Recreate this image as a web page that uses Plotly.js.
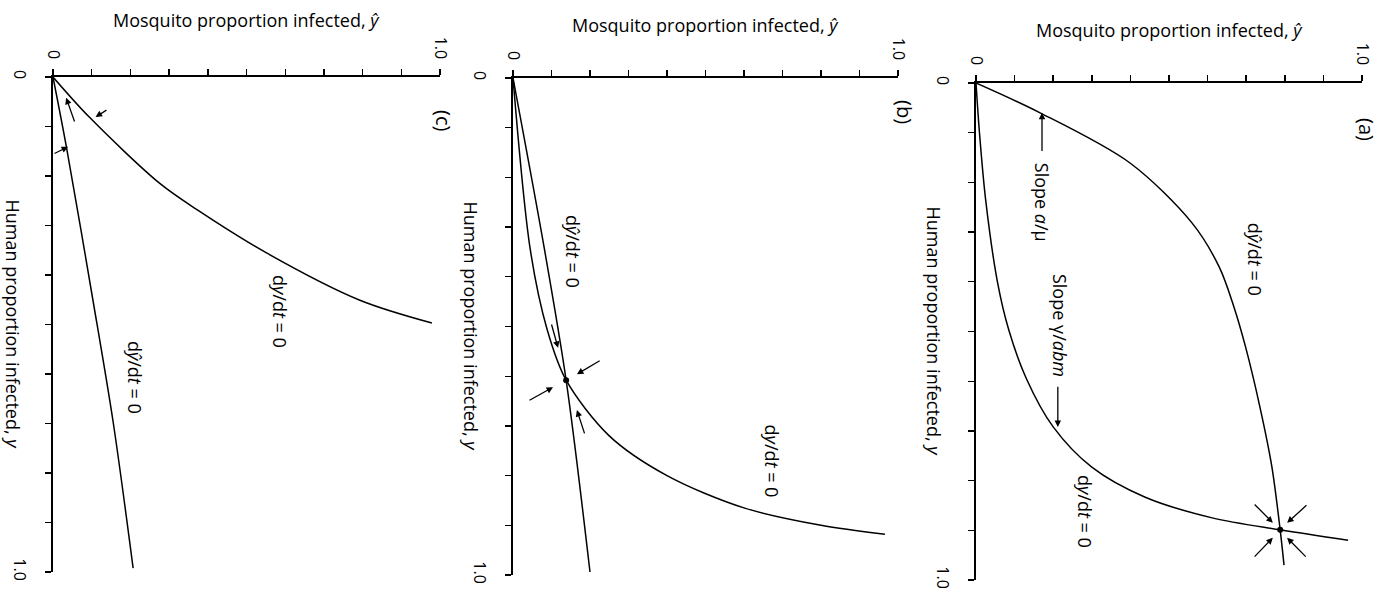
<!DOCTYPE html>
<html>
<head>
<meta charset="utf-8">
<script src="https://cdn.plot.ly/plotly-3.0.1.min.js"></script>
<style>html,body{margin:0;padding:0;background:#fff}#plot{width:1394px;height:597px}</style>
</head>
<body>
<div id="plot"></div>
<script>
// ---------- data (x = mosquito proportion infected ŷ, y = human proportion infected y) ----------
const tickVals = [0, 0.1, 0.2, 0.3, 0.4, 0.5, 0.6, 0.7, 0.8, 0.9, 1.0];
const tickText = ['0', '', '', '', '', '', '', '', '', '', '1.0'];

// Panel (a)
const aYhatNullX = [0, 0.166, 0.399, 0.560, 0.630, 0.668, 0.698, 0.735, 0.766, 0.788, 0.798];
const aYhatNullY = [0, 0.060, 0.161, 0.282, 0.370, 0.450, 0.530, 0.650, 0.770, 0.899, 0.970];
const aYNullX = [0, 0.009, 0.025, 0.056, 0.085, 0.130, 0.200, 0.300, 0.437, 0.612, 0.788, 0.964];
const aYNullY = [0, 0.100, 0.235, 0.402, 0.497, 0.594, 0.692, 0.773, 0.833, 0.875, 0.899, 0.920];
const aEqX = [0.788];
const aEqY = [0.899];
// arrows: [tailX, tailY, headX, headY]
const aArrows = [
  [0.718, 0.845, 0.769, 0.885],
  [0.860, 0.847, 0.806, 0.885],
  [0.718, 0.956, 0.769, 0.915],
  [0.858, 0.956, 0.806, 0.915],
  [0.171, 0.140, 0.171, 0.060],
  [0.212, 0.608, 0.212, 0.692]
];

// Panel (b)
const bYhatNullX = [0, 0.082, 0.138, 0.200];
const bYhatNullY = [0, 0.346, 0.608, 0.994];
const bYNullX = [0, 0.045, 0.089, 0.138, 0.250, 0.400, 0.600, 0.800, 0.966];
const bYNullY = [0, 0.346, 0.507, 0.608, 0.720, 0.800, 0.865, 0.900, 0.918];
const bEqX = [0.138];
const bEqY = [0.608];
const bArrows = [
  [0.099, 0.493, 0.117, 0.543],
  [0.187, 0.718, 0.166, 0.668],
  [0.229, 0.567, 0.166, 0.596],
  [0.039, 0.650, 0.104, 0.622]
];

// Panel (c)
const cYNullX = [0, 0.095, 0.276, 0.372, 0.553, 0.793, 0.979];
const cYNullY = [0, 0.082, 0.215, 0.268, 0.356, 0.451, 0.497];
const cYhatNullX = [0, 0.036, 0.103, 0.156, 0.207];
const cYhatNullY = [0, 0.147, 0.450, 0.700, 0.992];
const cArrows = [
  [0.142, 0.065, 0.110, 0.081],
  [0.057, 0.093, 0.034, 0.042],
  [0.000, 0.156, 0.039, 0.141]
];

// ---------- layout helpers ----------
const FONT = 'Open Sans, Lato, DejaVu Sans, sans-serif';
const W = 1394, H = 597;
function px2fx(p) { return p / W; }
function px2fy(p) { return 1 - p / H; }

const panels = [
  {id: '', x0: 53, x1: 440, y0: 77, y1: 572, titleY: 20, label: '(c)', labelX: 443, labelY: 120},
  {id: '2', x0: 513, x1: 898, y0: 78, y1: 575, titleY: 25, label: '(b)', labelX: 904, labelY: 112},
  {id: '3', x0: 976, x1: 1362, y0: 83, y1: 580, titleY: 30, label: '(a)', labelX: 1366, labelY: 129}
];

const layout = {
  width: W, height: H,
  margin: {l: 0, r: 0, t: 0, b: 0},
  paper_bgcolor: '#fff', plot_bgcolor: 'rgba(0,0,0,0)',
  showlegend: false,
  font: {family: FONT, color: '#000', size: 16},
  annotations: []
};

panels.forEach(p => {
  const xa = 'xaxis' + p.id, ya = 'yaxis' + p.id;
  const xr = 'x' + p.id, yr = 'y' + p.id;
  layout[xa] = {
    domain: [px2fx(p.x0), px2fx(p.x1)], anchor: yr, side: 'top', range: [0, 1],
    showline: true, linewidth: 2.2, linecolor: '#000', mirror: false,
    ticks: 'outside', ticklen: 6, tickwidth: 1.4, tickcolor: '#000',
    tickmode: 'array', tickvals: tickVals, ticktext: tickText, tickangle: 90,
    ticklabelstandoff: 4,
    tickfont: {family: FONT, size: 16, color: '#000'},
    showgrid: false, zeroline: false, fixedrange: true
  };
  layout[ya] = {
    domain: [px2fy(p.y1), px2fy(p.y0)], anchor: xr, side: 'left', range: [1, 0],
    showline: true, linewidth: 2.2, linecolor: '#000',
    ticks: 'outside', ticklen: 6, tickwidth: 1.4, tickcolor: '#000',
    tickmode: 'array', tickvals: tickVals, ticktext: tickText, tickangle: 90,
    ticklabelstandoff: 12,
    tickfont: {family: FONT, size: 16, color: '#000'},
    showgrid: false, zeroline: false, fixedrange: true
  };
  // axis titles
  layout.annotations.push({
    xref: 'paper', yref: 'paper', x: px2fx((p.x0 + p.x1) / 2), y: px2fy(p.titleY),
    xanchor: 'center', yanchor: 'middle', showarrow: false,
    text: 'Mosquito proportion infected, <i>ŷ</i>', font: {family: FONT, size: 18}
  });
  layout.annotations.push({
    xref: 'paper', yref: 'paper', x: px2fx(Math.max(p.x0 - 42, 13)), y: px2fy((p.y0 + p.y1) / 2),
    xanchor: 'center', yanchor: 'middle', showarrow: false, textangle: 90,
    text: 'Human proportion infected, <i>y</i>', font: {family: FONT, size: 18}
  });
  layout.annotations.push({
    xref: 'paper', yref: 'paper', x: px2fx(p.labelX), y: px2fy(p.labelY),
    xanchor: 'center', yanchor: 'middle', showarrow: false, textangle: 90,
    text: p.label, font: {family: FONT, size: 20}
  });
});

function addArrows(list, id) {
  list.forEach(a => {
    layout.annotations.push({
      xref: 'x' + id, yref: 'y' + id, axref: 'x' + id, ayref: 'y' + id,
      x: a[2], y: a[3], ax: a[0], ay: a[1], text: '',
      showarrow: true, arrowhead: 2, arrowsize: 1, arrowwidth: 1.3, arrowcolor: '#000', standoff: 0
    });
  });
}
addArrows(cArrows, '');
addArrows(bArrows, '2');
addArrows(aArrows, '3');

function label(id, x, y, text) {
  layout.annotations.push({
    xref: 'x' + id, yref: 'y' + id, x: x, y: y, xanchor: 'center', yanchor: 'middle',
    showarrow: false, textangle: 90, text: text, font: {family: FONT, size: 18}
  });
}
const dyhat = 'd<i>ŷ</i>/d<i>t</i> = 0';
const dy = 'd<i>y</i>/d<i>t</i> = 0';
// panel (a)
label('3', 0.723, 0.354, dyhat);
label('3', 0.282, 0.863, dy);
label('3', 0.171, 0.239, 'Slope <i>a</i>/μ');
label('3', 0.218, 0.487, 'Slope γ/<i>abm</i>');
// panel (b)
label('2', 0.156, 0.348, dyhat);
label('2', 0.673, 0.770, dy);
// panel (c)
label('', 0.587, 0.473, dy);
label('', 0.212, 0.606, dyhat);

const line = {color: '#000', width: 1.5, shape: 'spline', smoothing: 0.9};
function tr(x, y, id) { return {x: x, y: y, xaxis: 'x' + id, yaxis: 'y' + id, mode: 'lines', line: line, hoverinfo: 'skip'}; }
function pt(x, y, id) { return {x: x, y: y, xaxis: 'x' + id, yaxis: 'y' + id, mode: 'markers', marker: {color: '#000', size: 6}, hoverinfo: 'skip'}; }

const data = [
  tr(cYNullX, cYNullY, ''), tr(cYhatNullX, cYhatNullY, ''),
  tr(bYNullX, bYNullY, '2'), tr(bYhatNullX, bYhatNullY, '2'), pt(bEqX, bEqY, '2'),
  tr(aYNullX, aYNullY, '3'), tr(aYhatNullX, aYhatNullY, '3'), pt(aEqX, aEqY, '3')
];

Plotly.newPlot('plot', data, layout, {displayModeBar: false, staticPlot: true});
</script>
</body>
</html>
